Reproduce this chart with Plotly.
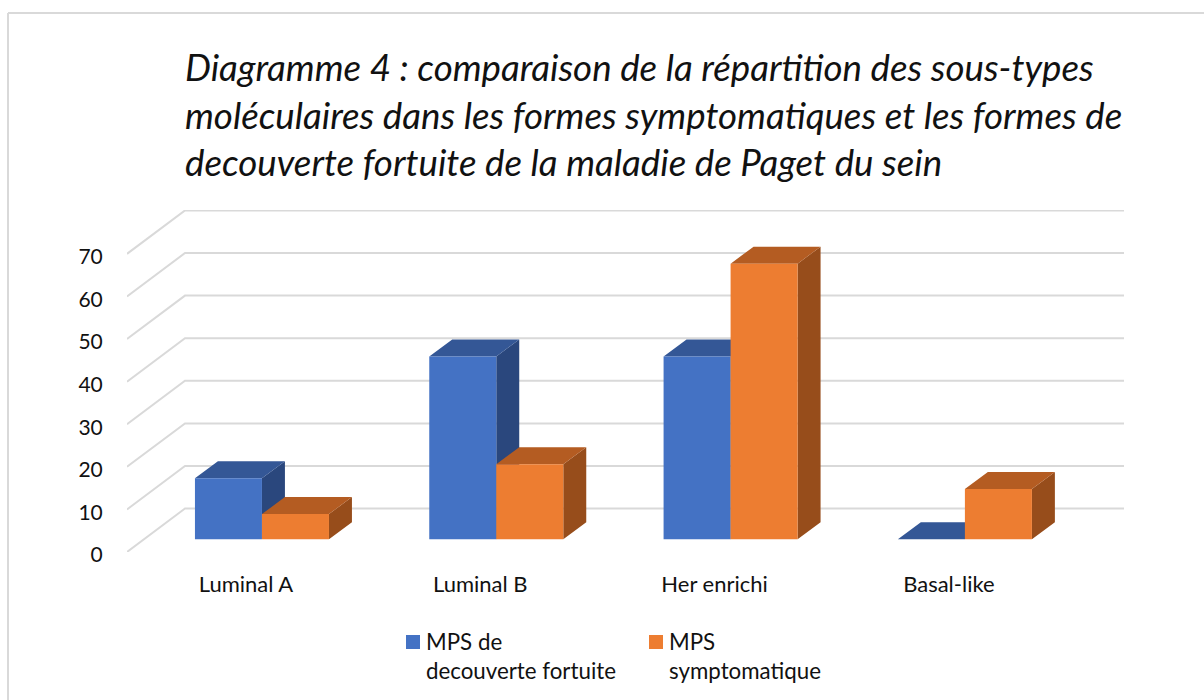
import plotly.graph_objects as go

# ---- data ----
categories = ["Luminal A", "Luminal B", "Her enrichi", "Basal-like"]
fortuite = [14.3, 42.9, 42.9, 0]
symptomatique = [5.9, 17.6, 64.7, 11.8]
series_names = ["MPS de<br>decouverte fortuite", "MPS<br>symptomatique"]
y_ticks = [0, 10, 20, 30, 40, 50, 60, 70]
title_lines = ["Diagramme 4 : comparaison de la répartition des sous-types",
               "moléculaires dans les formes symptomatiques et les formes de",
               "decouverte fortuite de la maladie de Paget du sein"]

# ---- geometry of the pseudo-3D view (axis units) ----
W, H = 1204, 700
ML, MR, MT, MB = 127, 80, 210, 148
X_RANGE = [-0.576, 3.679]
Y_RANGE = [0, 80.3]
WALL_DX, WALL_DY = 0.2475, 10.2      # depth of the back wall
BAR_W = 0.286
BAR_BASE = 3.0                       # bars stand inside the floor
BAR_DX, BAR_DY = 0.098, 4.0          # depth of each bar
LABEL_SHIFT = 16 / 234.3

BLUE, BLUE_TOP, BLUE_SIDE = "#4472C4", "#345796", "#2A477D"
ORANGE, ORANGE_TOP, ORANGE_SIDE = "#ED7D31", "#B45C22", "#974D1B"
GRID = "#D9D9D9"
TEXT = "#111111"
FONT = "Lato"

positions = list(range(len(categories)))
fig = go.Figure()

# gridlines: side wall plus back wall
gx, gy = [], []
for t in y_ticks:
    gx += [X_RANGE[0], X_RANGE[0] + WALL_DX, X_RANGE[1], None]
    gy += [t, t + WALL_DY, t + WALL_DY, None]
fig.add_trace(go.Scatter(x=gx, y=gy, mode="lines", line=dict(color=GRID, width=2),
                         hoverinfo="skip", showlegend=False))


def faces(values, left_offset):
    tx, ty, sx, sy = [], [], [], []
    for p, v in zip(positions, values):
        l = p + left_offset
        r = l + BAR_W
        b = BAR_BASE
        t = BAR_BASE + v
        tx += [l, r, r + BAR_DX, l + BAR_DX, l, None]
        ty += [t, t, t + BAR_DY, t + BAR_DY, t, None]
        sx += [r, r + BAR_DX, r + BAR_DX, r, r, None]
        sy += [b, b + BAR_DY, t + BAR_DY, t, b, None]
    return tx, ty, sx, sy


for values, off, ctop, cside in [(fortuite, -BAR_W, BLUE_TOP, BLUE_SIDE),
                                 (symptomatique, 0, ORANGE_TOP, ORANGE_SIDE)]:
    tx, ty, sx, sy = faces(values, off)
    for xs, ys, c in [(sx, sy, cside), (tx, ty, ctop)]:
        fig.add_trace(go.Scatter(x=xs, y=ys, mode="lines", fill="toself", fillcolor=c,
                                 line=dict(width=0, color=c), hoverinfo="skip",
                                 showlegend=False))

# front faces, on an overlay so they sit above the side and top faces
for values, off, color, name in [(fortuite, -BAR_W / 2, BLUE, series_names[0]),
                                 (symptomatique, BAR_W / 2, ORANGE, series_names[1])]:
    fig.add_trace(go.Bar(x=[p + off for p in positions], y=values, base=BAR_BASE,
                         width=BAR_W, marker=dict(color=color, line=dict(width=0)),
                         name=name, xaxis="x2", yaxis="y2"))

fig.update_layout(
    width=W, height=H, barmode="overlay", paper_bgcolor="white", plot_bgcolor="white",
    margin=dict(l=ML, r=MR, t=MT, b=MB, autoexpand=False),
    font=dict(family=FONT, color=TEXT, size=21),
    title=dict(text="<br>".join(title_lines), x=185 / W, xanchor="left", xref="container",
               y=1 - 81 / H, yanchor="top", yref="container",
               font=dict(family=FONT, size=36.7, style="italic", color=TEXT)),
    xaxis=dict(range=X_RANGE, tickmode="array", tickvals=[p - LABEL_SHIFT for p in positions],
               ticktext=categories, showgrid=False, zeroline=False, showline=False,
               ticks="outside", ticklen=13, tickcolor="rgba(0,0,0,0)",
               tickfont=dict(size=22, family=FONT, color=TEXT)),
    yaxis=dict(range=Y_RANGE, tickmode="array", tickvals=y_ticks, showgrid=False,
               zeroline=False, showline=False, ticks="outside", ticklen=19,
               tickcolor="rgba(0,0,0,0)", ticklabelshift=3),
    xaxis2=dict(range=X_RANGE, overlaying="x", visible=False),
    yaxis2=dict(range=Y_RANGE, overlaying="y", visible=False),
    legend=dict(orientation="h", x=(386 - ML) / (W - ML - MR), y=(H - MB - 620) / (H - MT - MB),
                xanchor="left", yanchor="top", entrywidth=198, entrywidthmode="pixels",
                font=dict(size=22.3, family=FONT, color=TEXT), bgcolor="rgba(0,0,0,0)",
                traceorder="normal", itemclick=False, itemdoubleclick=False),
    shapes=[dict(type="line", xref="paper", yref="paper",
                 x0=(8 - ML) / (W - ML - MR), x1=(W - ML) / (W - ML - MR),
                 y0=(H - MB - 13) / (H - MT - MB), y1=(H - MB - 13) / (H - MT - MB),
                 line=dict(color=GRID, width=2), layer="below"),
            dict(type="line", xref="paper", yref="paper",
                 x0=(8 - ML) / (W - ML - MR), x1=(8 - ML) / (W - ML - MR),
                 y0=(H - MB - 13) / (H - MT - MB), y1=(H - MB - H) / (H - MT - MB),
                 line=dict(color=GRID, width=2), layer="below")],
)

# page reset; legend swatches sit on the first text line, as in the reference
POST = """
document.body.style.margin='0';document.body.style.overflow='hidden';
var gd=document.getElementById('{plot_id}');
function fixLegend(){
  gd.querySelectorAll('.legend .legendsymbols').forEach(function(g){
    g.setAttribute('transform','translate(27,-13.5)');
    g.querySelectorAll('path').forEach(function(p){p.setAttribute('transform','scale(1.17)');});
  });
}
fixLegend();
gd.on('plotly_afterplot',fixLegend);
setTimeout(fixLegend,50);
"""
fig.write_html("out.html", post_script=POST, config={"displayModeBar": False})
